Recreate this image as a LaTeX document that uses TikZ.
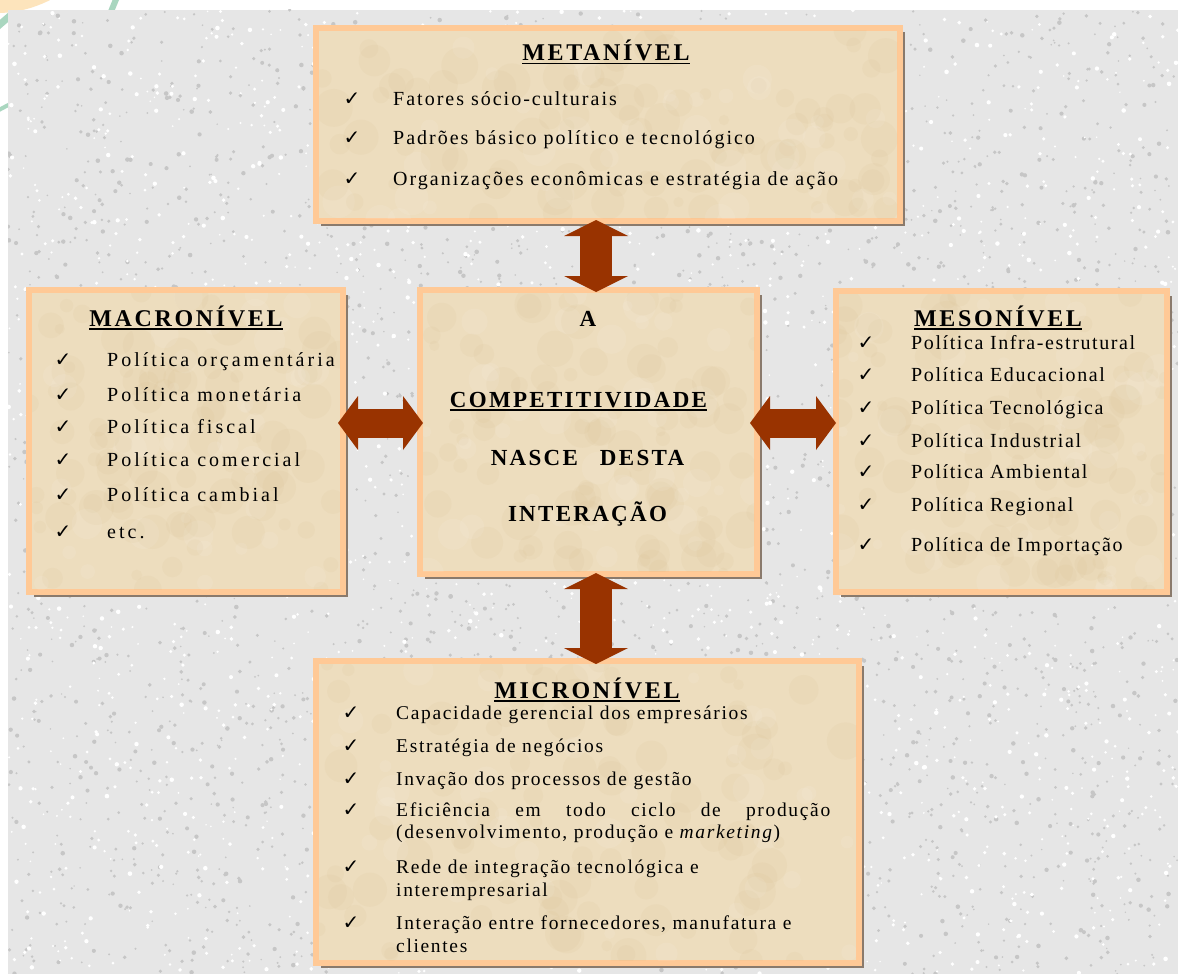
\documentclass[tikz,border=0pt]{standalone}
\usepackage{fontspec}
\setmainfont{Liberation Serif}
\newfontfamily\chkfont{DejaVu Sans}
\usetikzlibrary{arrows.meta,shadows,calc}
\definecolor{granite}{HTML}{E6E6E6}
\definecolor{speckdark}{HTML}{C6C6C6}
\definecolor{parch}{HTML}{EDDDBE}
\definecolor{parchdark}{HTML}{D2B683}
\definecolor{peach}{HTML}{FFC996}
\definecolor{shadowc}{HTML}{8A7A6C}
\definecolor{arrowc}{HTML}{993300}
\definecolor{cornerpeach}{HTML}{FDE4BC}
\definecolor{cornergreen}{HTML}{A9D6BF}
\newcommand\myul[1]{\setbox0\hbox{#1}\rlap{\rule[-3.5pt]{\wd0}{1.8pt}}\box0}
\newcommand\ptex[1]{%
  \begin{scope}
    \clip ([shift={(3pt,-3pt)}]#1.north west) rectangle ([shift={(-3pt,3pt)}]#1.south east);
    \foreach \k in {1,...,90}{
      \fill[parchdark, opacity=0.09] let \p1=(#1.south west), \p2=(#1.north east) in ({\x1+rnd*(\x2-\x1)},{\y1+rnd*(\y2-\y1)}) circle[radius={5+rnd*14}];
    }
    \foreach \k in {1,...,40}{
      \fill[white, opacity=0.08] let \p1=(#1.south west), \p2=(#1.north east) in ({\x1+rnd*(\x2-\x1)},{\y1+rnd*(\y2-\y1)}) circle[radius={5+rnd*12}];
    }
  \end{scope}}
\tikzset{
  box/.style={rectangle, draw=peach, line width=6pt, fill=parch, inner sep=0pt, outer sep=0pt,
    drop shadow={shadow xshift=4.5pt, shadow yshift=-4.5pt, fill=shadowc, opacity=1}},
  ttl/.style={anchor=base, inner sep=0pt, font=\fontsize{24}{28}\selectfont\bfseries\addfontfeature{LetterSpace=11}},
  ctr/.style={anchor=base, inner sep=0pt, font=\fontsize{23}{28}\selectfont\bfseries\addfontfeature{LetterSpace=10}},
  chk/.style={anchor=base, inner sep=0pt, font=\chkfont\fontsize{20}{22}\selectfont},
  itmeta/.style={anchor=base west, inner sep=0pt, font=\fontsize{20}{24}\selectfont\addfontfeature{LetterSpace=10}},
  itmacro/.style={anchor=base west, inner sep=0pt, font=\fontsize{20}{24}\selectfont\addfontfeature{LetterSpace=15}},
  itmeso/.style={anchor=base west, inner sep=0pt, font=\fontsize{20}{24}\selectfont\addfontfeature{LetterSpace=8}},
  itmicro/.style={anchor=base west, inner sep=0pt, font=\fontsize{19.5}{24}\selectfont\addfontfeature{LetterSpace=8.5}},
  varrow/.style={draw=arrowc, line width=32pt, {Triangle[length=16pt,width=64pt,line width=0pt]}-{Triangle[length=16pt,width=64pt,line width=0pt]}},
  harrow/.style={draw=arrowc, line width=29pt, {Triangle[length=20pt,width=54pt,line width=0pt]}-{Triangle[length=20pt,width=54pt,line width=0pt]}}
}
\begin{document}
\begin{tikzpicture}[x=1pt,y=-1pt]
\useasboundingbox (0,0) rectangle (1178,974);
\fill[white] (0,0) rectangle (1178,974);
% corner decoration
\fill[cornerpeach] (-4.5,-106.9) circle[radius=120];
\draw[cornergreen, line width=7pt] (-3,27) -- (12,14);
\draw[cornergreen, line width=4pt] (-3,111) -- (12,103);
\draw[cornergreen, line width=6pt] (117,-3) -- (110,14);
% granite background
\fill[granite] (8,10) rectangle (1178,974);
\begin{scope}
\clip (8,10) rectangle (1178,974);
\pgfmathsetseed{12}
\foreach \k in {1,...,3400}{\fill[speckdark] ({8+rnd*1170},{10+rnd*964}) circle[radius={0.8+rnd*1.5}];}
\foreach \k in {1,...,2200}{\fill[white] ({8+rnd*1170},{10+rnd*964}) circle[radius={0.8+rnd*1.5}];}
\end{scope}
% boxes
\node[box, minimum width=584pt, minimum height=193pt] (meta) at (608,124.5) {};
\node[box, minimum width=314pt, minimum height=302pt] (macro) at (186,441) {};
\node[box, minimum width=337pt, minimum height=284pt] (centro) at (588.5,432) {};
\node[box, minimum width=331pt, minimum height=301pt] (meso) at (1001.5,441.5) {};
\node[box, minimum width=543pt, minimum height=302pt] (micro) at (587.5,812) {};
\ptex{meta}\ptex{macro}\ptex{centro}\ptex{meso}\ptex{micro}
% arrows
\coordinate (vx) at (596,0);
\coordinate (hy) at (0,423);
\draw[varrow, shorten <=-1pt, shorten >=-2pt] (meta.south -| vx) -- (centro.north -| vx);
\draw[varrow, shorten <=-1pt, shorten >=-3pt] (centro.south -| vx) -- (micro.north -| vx);
\draw[harrow, shorten <=-5pt, shorten >=-3pt] (macro.east |- hy) -- (centro.west |- hy);
\draw[harrow, shorten <=-7pt, shorten >=0pt] (centro.east |- hy) -- (meso.west |- hy);
% METANIVEL
\node[ttl] (metat) at (606,61) {\myul{METANÍVEL}};
\node[chk] (mc1) at (352,106) {✓};
\node[chk] (mc2) at (352,144) {✓};
\node[chk] (mc3) at (352,185) {✓};
\node[itmeta] (mi1) at (393,106) {Fatores sócio-culturais};
\node[itmeta] (mi2) at (393,144) {Padrões básico político e tecnológico};
\node[itmeta] (mi3) at (393,185) {Organizações econômicas e estratégia de ação};
% MACRONIVEL
\node[ttl] (macrot) at (186,326) {\myul{MACRONÍVEL}};
\node[chk] (ac1) at (63,366) {✓};
\node[chk] (ac2) at (63,401) {✓};
\node[chk] (ac3) at (63,433) {✓};
\node[chk] (ac4) at (63,466) {✓};
\node[chk] (ac5) at (63,501) {✓};
\node[chk] (ac6) at (63,538) {✓};
\node[itmacro] (ai1) at (107,366) {Política orçamentária};
\node[itmacro] (ai2) at (107,401) {Política monetária};
\node[itmacro] (ai3) at (107,433) {Política fiscal};
\node[itmacro] (ai4) at (107,466) {Política comercial};
\node[itmacro] (ai5) at (107,501) {Política cambial};
\node[itmacro] (ai6) at (107,538) {etc.};
% CENTRO
\node[ctr] (ca) at (588,326) {A};
\node[ctr] (cb) at (578.5,407) {\myul{COMPETITIVIDADE}};
\node[ctr] (cc) at (587.5,465) {NASCE\hspace{14pt} DESTA};
\node[ctr] (cd) at (587.5,521) {INTERAÇÃO};
% MESONIVEL
\node[ttl] (mesot) at (998,326) {\myul{MESONÍVEL}};
\node[chk] (ec1) at (866,349) {✓};
\node[chk] (ec2) at (866,381) {✓};
\node[chk] (ec3) at (866,414) {✓};
\node[chk] (ec4) at (866,447) {✓};
\node[chk] (ec5) at (866,478) {✓};
\node[chk] (ec6) at (866,511) {✓};
\node[chk] (ec7) at (866,551) {✓};
\node[itmeso] (ei1) at (911,349) {Política Infra-estrutural};
\node[itmeso] (ei2) at (911,381) {Política Educacional};
\node[itmeso] (ei3) at (911,414) {Política Tecnológica};
\node[itmeso] (ei4) at (911,447) {Política Industrial};
\node[itmeso] (ei5) at (911,478) {Política Ambiental};
\node[itmeso] (ei6) at (911,511) {Política Regional};
\node[itmeso] (ei7) at (911,551) {Política de Importação};
% MICRONIVEL
\node[ttl] (microt) at (587,698) {\myul{MICRONÍVEL}};
\node[chk] (ic1) at (351,719) {✓};
\node[chk] (ic2) at (351,752) {✓};
\node[chk] (ic3) at (351,785) {✓};
\node[chk] (ic4) at (351,816) {✓};
\node[chk] (ic5) at (351,873) {✓};
\node[chk] (ic6) at (351,929) {✓};
\node[itmicro] (ii1) at (396,719) {Capacidade gerencial dos empresários};
\node[itmicro] (ii2) at (396,752) {Estratégia de negócios};
\node[itmicro] (ii3) at (396,785) {Invação dos processos de gestão};
\node[itmicro] (ii4a) at (396,816) {\makebox[434pt][s]{Eficiência em todo ciclo de produção}};
\node[itmicro] (ii4b) at (396,838) {(desenvolvimento, produção e \textit{marketing})};
\node[itmicro] (ii5a) at (396,873) {Rede de integração tecnológica e};
\node[itmicro] (ii5b) at (396,896) {interempresarial};
\node[itmicro] (ii6a) at (396,929) {Interação entre fornecedores, manufatura e};
\node[itmicro] (ii6b) at (396,952) {clientes};
\end{tikzpicture}
\end{document}
